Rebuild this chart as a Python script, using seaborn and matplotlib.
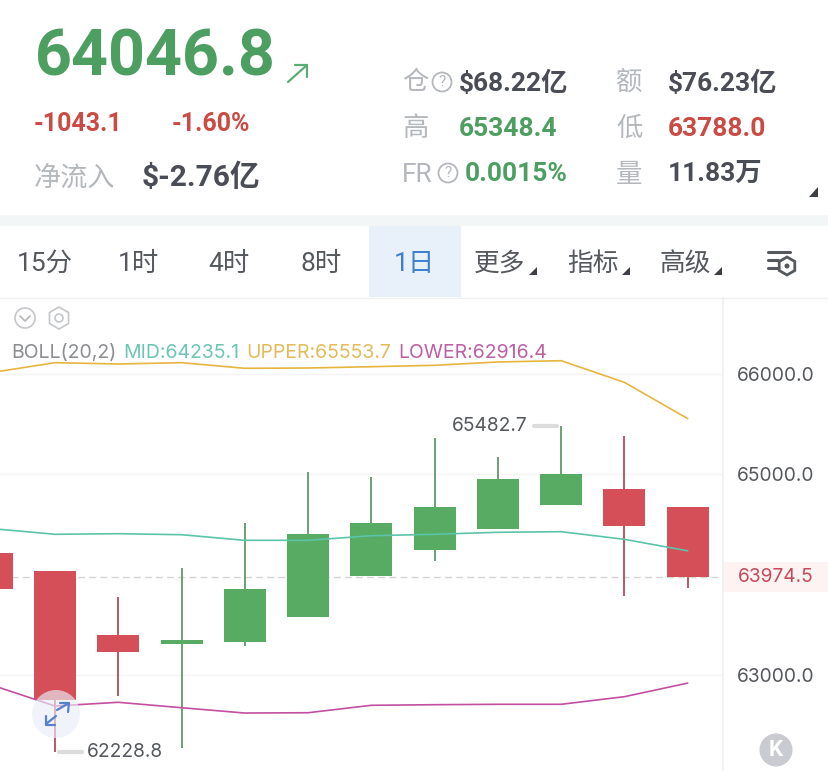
import pandas as pd
import matplotlib
matplotlib.use('Agg')
import matplotlib.pyplot as plt
from matplotlib.patches import Rectangle, Circle, Polygon, RegularPolygon
import seaborn as sns

# K线数据
candle_idx = [-1, 0, 1, 2, 3, 4, 5, 6, 7, 8, 9, 10]
opens = [64210, 64034, 63396, 63303, 63323, 63578, 63981, 64243, 64453, 64692, 64854, 64675]
closes = [63851, 62748, 63223, 63349, 63851, 64403, 64512, 64675, 64948, 65004, 64486, 63974.5]
highs = [64210, 64034, 63778, 64061, 64515, 65021, 64974, 65363, 65167, 65482.7, 65380, 64675]
lows = [63851, 62228.8, 62788, 62266, 63289, 63578, 63981, 64134, 64453, 64692, 63788, 63861]

# BOLL
upper_band = [66013, 66111, 66098, 66111, 66055, 66058, 66071, 66085, 66118, 66131, 65915, 65553.7]
mid_band = [64457, 64400, 64406, 64396, 64340, 64340, 64386, 64400, 64420, 64426, 64350, 64235.1]
lower_band = [62897, 62688, 62725, 62671, 62618, 62621, 62695, 62701, 62705, 62705, 62781, 62916.4]

y_ticks = [63000, 65000, 66000]
y_tick_labels = ['63000.0', '65000.0', '66000.0']
last_price = 63974.5

GREEN = '#57ab63'
RED = '#d44f58'
DARK = '#4a4d55'
GRAY = '#b4b7bb'
TXT_GREEN = '#4c9f60'
TXT_RED = '#cb4a43'
CHART_FONT = ['Inter', 'DejaVu Sans']

sns.set_theme(style='white')
plt.rcParams['font.family'] = ['Roboto', 'Noto Sans CJK SC', 'DejaVu Sans']

W, H = 829, 771
fig = plt.figure(figsize=(W / 100, H / 100), dpi=100, facecolor='white')

# 图表区域
ax = fig.add_axes([0, 0, 723 / W, (H - 298) / H])

df = pd.DataFrame({'i': candle_idx, 'open': opens, 'close': closes, 'high': highs, 'low': lows})
df['bottom'] = df[['open', 'close']].min(axis=1)
df['height'] = (df['close'] - df['open']).abs()
df['up'] = df['close'] >= df['open']

ax.set_axisbelow(True)
ax.hlines(y_ticks, -2, 11, color='#f4f4f4', lw=1, zorder=0)
ax.axhline(last_price, color='#d4d4d4', lw=1, ls=(0, (5, 3)), zorder=1)

for is_up, color, wick_color in [(True, GREEN, '#5f9a6c'), (False, RED, '#b34a5b')]:
    part = df[df['up'] == is_up]
    ax.vlines(part['i'], part['low'], part['high'], color=wick_color, lw=1.3, zorder=2)
    sns.barplot(data=part, x='i', y='height', bottom=part['bottom'].values, native_scale=True,
                width=0.664, color=color, saturation=1, errorbar=None, linewidth=0, zorder=3, ax=ax)

band_df = pd.DataFrame({'i': candle_idx * 3,
                        'value': upper_band + mid_band + lower_band,
                        'band': ['UPPER'] * 12 + ['MID'] * 12 + ['LOWER'] * 12})
sns.lineplot(data=band_df, x='i', y='value', hue='band', errorbar=None, legend=False, lw=1.2, zorder=4, ax=ax,
             palette={'UPPER': '#e6b53e', 'MID': '#5cc4a8', 'LOWER': '#c24fa2'})

ax.set_xlim(-0.869, 10.558)
ax.set_ylim(62040, 66756)
ax.set_xlabel('')
ax.set_ylabel('')
ax.set_xticks([])
ax.yaxis.tick_right()
ax.set_yticks(y_ticks)
ax.set_yticklabels(y_tick_labels, fontsize=13.8, color='#55585c', family=CHART_FONT)
ax.tick_params(axis='y', length=0, pad=10)
sns.despine(ax=ax, left=True, top=True, bottom=True, right=False)
ax.spines['right'].set_color('#f0f0f0')
ax.patch.set_alpha(0)

# 界面层, 像素坐标
ui = fig.add_axes([0, 0, 1, 1], zorder=5)
ui.set_xlim(0, W)
ui.set_ylim(H, 0)
ui.axis('off')


def label(x, y, s, size, color, weight='normal', ha='left', family=None):
    ui.text(x, y, s, fontsize=size, color=color, fontweight=weight, ha=ha, va='center', family=family)


def tri(x0, x1, y0, y1, color='#3c3f44'):
    ui.add_patch(Polygon([(x0, y1), (x1, y1), (x1, y0)], color=color, lw=0))


def qmark(x, y):
    ui.add_patch(Circle((x, y), 9.5, fc='none', ec=GRAY, lw=1.3))
    label(x, y, '?', 11, GRAY, ha='center')


# 行情
label(35, 58, '64046.8', 46.5, TXT_GREEN, 'bold')
ui.plot([288, 307], [82, 65], color='#5bab77', lw=1.6)
ui.plot([295, 307, 307], [65, 65, 77], color='#5bab77', lw=1.6)
label(34, 124, '-1043.1', 18, TXT_RED, 'bold')
label(172, 124, '-1.60%', 18, TXT_RED, 'bold')
label(34, 178, '净流入', 19.5, GRAY)
label(142, 178, '$-2.76亿', 21.5, DARK, 'bold')

label(402, 83, '仓', 19, GRAY)
qmark(442, 82)
label(459, 83, '$68.22亿', 19, DARK, 'bold')
label(616, 83, '额', 19, GRAY)
label(668, 83, '$76.23亿', 19, DARK, 'bold')
label(402, 129, '高', 19, GRAY)
label(459, 129, '65348.4', 19, TXT_GREEN, 'bold')
label(616, 129, '低', 19, GRAY)
label(668, 129, '63788.0', 19, TXT_RED, 'bold')
label(402, 175, 'FR', 19, GRAY)
qmark(448, 173)
label(465, 174, '0.0015%', 19, TXT_GREEN, 'bold')
label(616, 175, '量', 19, GRAY)
label(668, 174, '11.83万', 19, DARK, 'bold')
tri(809, 818, 187, 197)

# 周期栏
ui.add_patch(Rectangle((0, 215), W, 11, color='#f2f6f7', lw=0))
ui.add_patch(Rectangle((369, 226), 92, 71, color='#e8f0fa', lw=0))
ui.plot([0, W], [297.5, 297.5], color='#f0f0f0', lw=1)
for x, s in [(45, '15分'), (138, '1时'), (229, '4时'), (321, '8时')]:
    label(x, 264, s, 19, '#55585c', ha='center')
label(414, 264, '1日', 19, '#3f7fd0', ha='center')
for x, s in [(500, '更多'), (593, '指标'), (685, '高级')]:
    label(x, 264, s, 18.5, '#55585c', ha='center')
    tri(x + 29, x + 37, 267, 275)
for y, x1 in [(252, 790), (260, 778), (268, 778)]:
    ui.plot([768, x1], [y, y], color='#55585c', lw=2.2)
ui.add_patch(RegularPolygon((787, 266), 6, radius=9, fc='white', ec='#55585c', lw=2))
ui.add_patch(Circle((787, 266), 2.5, fc='#55585c', lw=0))

# 图表图标和 BOLL 标题
ui.add_patch(Circle((25, 318), 10, fc='none', ec='#c4c6c9', lw=1.2))
ui.plot([20, 25, 30], [316, 321, 316], color='#b4b6b9', lw=1.2)
ui.add_patch(RegularPolygon((59, 318), 6, radius=11, fc='none', ec='#c4c6c9', lw=1.2))
ui.add_patch(Circle((59, 318), 4, fc='none', ec='#c4c6c9', lw=1.2))
label(11, 353, 'BOLL(20,2)', 14, '#8b8d90', family=CHART_FONT)
label(123, 353, 'MID:64235.1', 14, '#6cc5b5', family=CHART_FONT)
label(246, 353, 'UPPER:65553.7', 14, '#e3bb5a', family=CHART_FONT)
label(398, 353, 'LOWER:62916.4', 14, '#bd5fa5', family=CHART_FONT)

# 高低点
label(452, 426, '65482.7', 13.8, '#55585c', family=CHART_FONT)
ui.plot([534, 557], [425.5, 425.5], color='#dcdcdc', lw=3)
label(87, 752, '62228.8', 13.8, '#55585c', family=CHART_FONT)
ui.plot([59, 82], [752, 752], color='#dcdcdc', lw=3)

# 最新价
ui.add_patch(Rectangle((724, 562), 105, 30, color='#fdf3f2', lw=0))
label(776, 577, '63974.5', 13.8, '#c64a5c', ha='center', family=CHART_FONT)

# 悬浮按钮
ui.add_patch(Circle((56, 714), 24, fc='#e9eef8', ec='none', alpha=0.65))
ui.plot([57, 69], [710, 703], color='#5b7fc8', lw=1.6)
ui.plot([60, 69, 68], [703, 703, 712], color='#5b7fc8', lw=1.6)
ui.plot([46, 56], [724, 716], color='#5b7fc8', lw=1.6)
ui.plot([46, 46, 55], [716, 725, 725], color='#5b7fc8', lw=1.6)
ui.add_patch(Circle((776, 750), 16.5, fc='#c9cbd0', lw=0))
label(776, 750, 'K', 16, 'white', 'bold', ha='center')

fig.savefig('out.png', dpi=100)
